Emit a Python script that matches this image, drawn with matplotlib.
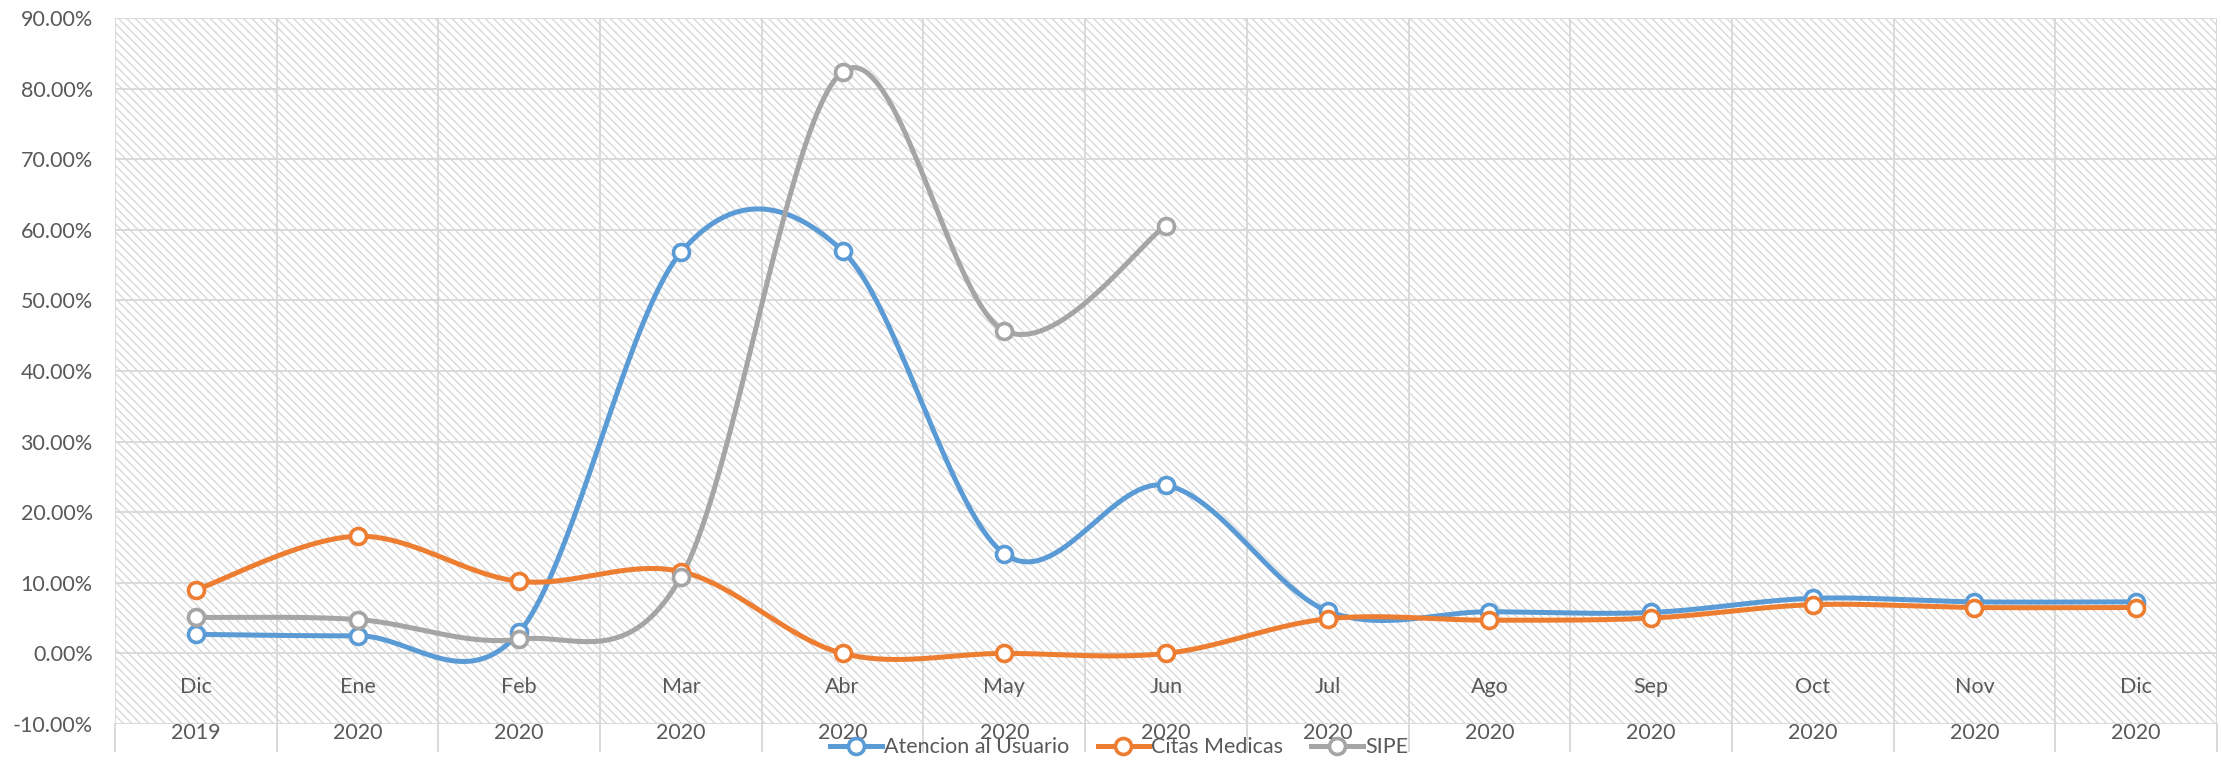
import matplotlib
matplotlib.use('Agg')
import matplotlib.pyplot as plt
import matplotlib.transforms as mtransforms
from matplotlib.patches import Rectangle
from matplotlib.lines import Line2D
import numpy as np

plt.rcParams['font.family'] = ['Lato', 'DejaVu Sans']

months = ["Dic", "Ene", "Feb", "Mar", "Abr", "May", "Jun", "Jul", "Ago", "Sep", "Oct", "Nov", "Dic"]
years = ["2019", "2020", "2020", "2020", "2020", "2020", "2020", "2020", "2020", "2020", "2020", "2020", "2020"]

atencion = [2.7, 2.5, 3.0, 56.8, 57.0, 14.1, 23.8, 6.0, 5.9, 5.8, 7.8, 7.3, 7.3]
citas = [9.0, 16.6, 10.2, 11.6, 0.0, 0.0, 0.0, 4.9, 4.7, 5.0, 6.9, 6.5, 6.5]
sipe = [5.1, 4.8, 2.0, 10.8, 82.4, 45.7, 60.6, np.nan, np.nan, np.nan, np.nan, np.nan, np.nan]

names = ["Atencion al Usuario", "Citas Medicas", "SIPE"]
colors = ["#5B9BD5", "#ED7D31", "#A5A5A5"]
txt = "#595959"
grid_c = "#D9D9D9"
fs = 15.5


# excel-like smoothed line (bezier through the points)
def smooth(xs, ys, n=40):
    xs = np.asarray(xs, float)
    ys = np.asarray(ys, float)
    ok = ~np.isnan(ys)
    xs, ys = xs[ok], ys[ok]
    px, py = [], []
    k = len(xs)
    for i in range(k - 1):
        i0 = max(i - 1, 0)
        i3 = min(i + 2, k - 1)
        c1x = xs[i] + (xs[i + 1] - xs[i0]) / 6
        c1y = ys[i] + (ys[i + 1] - ys[i0]) / 6
        c2x = xs[i + 1] - (xs[i3] - xs[i]) / 6
        c2y = ys[i + 1] - (ys[i3] - ys[i]) / 6
        t = np.linspace(0, 1, n)
        a, b, c, d = (1 - t) ** 3, 3 * (1 - t) ** 2 * t, 3 * (1 - t) * t ** 2, t ** 3
        px.extend(a * xs[i] + b * c1x + c * c2x + d * xs[i + 1])
        py.extend(a * ys[i] + b * c1y + c * c2y + d * ys[i + 1])
    return px, py


fig = plt.figure(figsize=(22.21, 7.6), dpi=100)
ax = fig.add_axes([115 / 2221, 1 - 724 / 760, (2217 - 115) / 2221, (724 - 18) / 760])

ax.add_patch(Rectangle((0, 0), 1, 1, transform=ax.transAxes, facecolor='white',
                       edgecolor=grid_c, hatch='\\\\\\\\', lw=0, zorder=0))

x = np.arange(len(months))
for vals, col in zip([atencion, citas, sipe], colors):
    sx, sy = smooth(x, vals)
    ax.plot(sx, sy, color=col, lw=3.6, solid_capstyle='round', zorder=3)
    ax.plot(x, vals, ls='none', marker='o', ms=11.5, mfc='white', mec=col, mew=2.6, zorder=4)

ax.set_xlim(-0.5, len(months) - 0.5)
ax.set_ylim(-10, 90)
ax.set_yticks(np.arange(-10, 91, 10))
ax.set_yticklabels(["%.2f%%" % v for v in np.arange(-10, 91, 10)])
ax.set_xticks([])
ax.set_xticks(np.arange(-0.5, len(months), 1), minor=True)
ax.tick_params(axis='y', length=0, pad=16, labelsize=fs, labelcolor=txt)
ax.tick_params(axis='x', which='both', length=0)
ax.grid(True, axis='y', color=grid_c, lw=1.4)
ax.grid(True, axis='x', which='minor', color=grid_c, lw=1.4)
ax.set_axisbelow(True)
for s in ax.spines.values():
    s.set_visible(False)

trans = mtransforms.blended_transform_factory(ax.transData, ax.transAxes)
for i in range(len(months)):
    ax.text(i, -4.7, months[i], ha='center', va='center', fontsize=fs, color=txt, zorder=2)
    ax.text(i, -0.0125, years[i], ha='center', va='center', fontsize=fs, color=txt,
            transform=trans, clip_on=False)
for xs in np.arange(-0.5, len(months), 1):
    ax.plot([xs, xs], [0, -0.038], color=grid_c, lw=1.4, transform=trans, clip_on=False)

handles = [Line2D([], [], color=c, lw=3.6, marker='o', ms=11.5, mfc='white', mec=c, mew=2.6)
           for c in colors]
fig.legend(handles, names, loc='center', bbox_to_anchor=(0.504, 0.017), ncol=3,
           frameon=False, fontsize=fs, labelcolor=txt, handlelength=2.4,
           handletextpad=0.1, columnspacing=1.3, borderpad=0)

fig.savefig('out.png', dpi=100)
